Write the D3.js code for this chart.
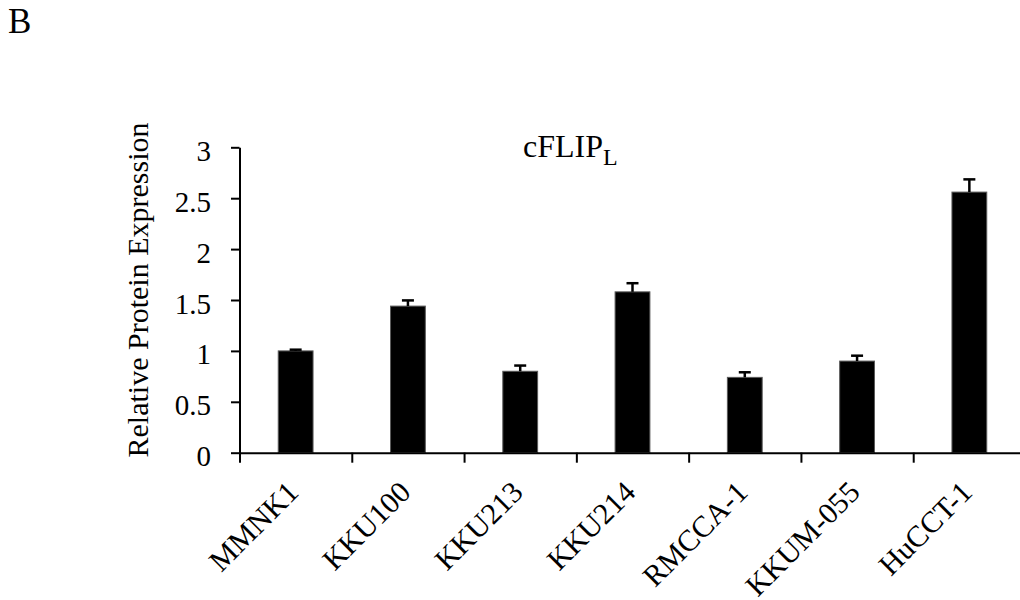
<!DOCTYPE html>
<html>
<head>
<meta charset="utf-8">
<script src="https://cdn.jsdelivr.net/npm/d3@7"></script>
<style>
  html, body { margin: 0; padding: 0; background: #fff; }
  svg { display: block; }
  text { font-family: "Liberation Serif", "Times New Roman", serif; fill: #000; }
</style>
</head>
<body>
<svg id="chart" width="1020" height="600"></svg>
<script>
// Cell lines and their relative cFLIP-L protein levels (mean and SD)
const cellLines = ["MMNK1", "KKU100", "KKU213", "KKU214", "RMCCA-1", "KKUM-055", "HuCCT-1"];
const expression = [1.00, 1.44, 0.80, 1.58, 0.74, 0.90, 2.56];
const errors = [0.012, 0.056, 0.056, 0.085, 0.05, 0.053, 0.125];
const yTicks = [0, 0.5, 1, 1.5, 2, 2.5, 3];

const svg = d3.select("#chart");

const plot = { left: 239.5, right: 1025.5, top: 147.3, bottom: 452.7 };

const y = d3.scaleLinear().domain([0, 3]).range([plot.bottom, plot.top]);
const x = d3.scaleBand().domain(cellLines).range([plot.left, plot.right]).padding(0);
// index scale used for tick marks on category boundaries
const xEdge = d3.scaleLinear().domain([0, cellLines.length]).range([plot.left, plot.right]);
const barWidth = x.bandwidth() * 0.31;

// panel letter
svg.append("text")
  .attr("x", 8).attr("y", 33)
  .style("font-size", "35px")
  .text("B");

// title with subscript
const title = svg.append("text")
  .attr("x", 523).attr("y", 157)
  .style("font-size", "32px");
title.append("tspan").text("cFLIP");
title.append("tspan").attr("dy", 8).style("font-size", "24px").text("L");

// bars
svg.append("g").selectAll("rect")
  .data(cellLines)
  .join("rect")
  .attr("x", (d) => x(d) + x.bandwidth() / 2 - barWidth / 2)
  .attr("width", barWidth)
  .attr("y", (d, i) => y(expression[i]))
  .attr("height", (d, i) => y(0) - y(expression[i]))
  .attr("fill", "#000")
  .attr("stroke", "#5a5a5a")
  .attr("stroke-width", 1);

// error bars (upper only)
const eb = svg.append("g").attr("stroke", "#000").attr("stroke-width", 2.5);
cellLines.forEach((c, i) => {
  const cx = x(c) + x.bandwidth() / 2;
  eb.append("line")
    .attr("x1", cx).attr("x2", cx)
    .attr("y1", y(expression[i])).attr("y2", y(expression[i] + errors[i]));
  eb.append("line")
    .attr("x1", cx - 6).attr("x2", cx + 6)
    .attr("y1", y(expression[i] + errors[i])).attr("y2", y(expression[i] + errors[i]));
});

// y axis
const yAxis = svg.append("g")
  .attr("transform", `translate(${plot.left},0)`)
  .call(d3.axisLeft(y).tickValues(yTicks).tickFormat(d3.format("")).tickSize(8.5).tickSizeOuter(0).tickPadding(20));
yAxis.select(".domain").attr("stroke", "#000").attr("stroke-width", 2);
yAxis.selectAll(".tick line").attr("stroke", "#000").attr("stroke-width", 2);
yAxis.selectAll(".tick text")
  .attr("dy", "0.45em")
  .style("font-size", "29px")
  .style("font-family", "'Liberation Serif', 'Times New Roman', serif");

// x axis with ticks between categories
const xAxis = svg.append("g")
  .attr("transform", `translate(0,${plot.bottom})`)
  .call(d3.axisBottom(xEdge).tickValues(d3.range(cellLines.length + 1)).tickFormat("").tickSize(10).tickSizeOuter(0));
xAxis.select(".domain").attr("stroke", "#000").attr("stroke-width", 2);
xAxis.selectAll(".tick line").attr("stroke", "#000").attr("stroke-width", 2);

// rotated category labels
svg.append("g").selectAll("text")
  .data(cellLines)
  .join("text")
  .attr("transform", (d) => `translate(${x(d) + x.bandwidth() / 2 + 4.5},494) rotate(-45)`)
  .attr("text-anchor", "end")
  .style("font-size", "30px")
  .text((d) => d);

// y axis title
svg.append("text")
  .attr("transform", "translate(148,290) rotate(-90)")
  .attr("text-anchor", "middle")
  .style("font-size", "30px")
  .text("Relative Protein Expression");
</script>
</body>
</html>
